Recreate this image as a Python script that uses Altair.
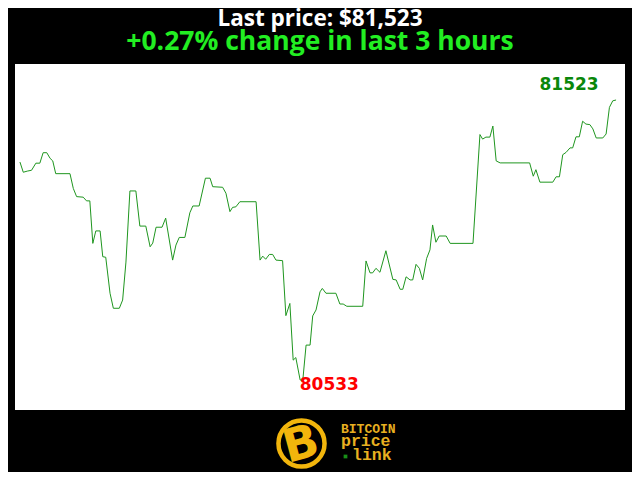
import altair as alt
import pandas as pd

TITLE = "Last price: $81,523"
SUBTITLE = "+0.27% change in last 3 hours"
MAX_LABEL = "81523"
MIN_LABEL = "80533"
LOGO_LINES = ["BITCOIN", "price", "link"]

minutes = [0.0, 1.0, 2.2, 3.5, 4.8, 6.0, 7.0, 8.1, 9.1, 9.9, 10.8, 15.1, 16.1, 17.1, 19.1, 20.1,
           21.1, 22.0, 22.9, 24.2, 25.0, 25.9, 27.2, 28.2, 30.0, 31.0, 32.0, 33.2, 35.0, 36.2,
           38.0, 39.3, 40.1, 41.1, 42.9, 44.0, 46.1, 47.1, 48.1, 49.8, 51.3, 52.2, 54.1, 56.0,
           57.4, 58.2, 61.2, 62.2, 63.4, 64.2, 65.2, 66.4, 71.3, 72.5, 73.3, 74.2, 75.3, 76.3,
           77.3, 79.3, 80.3, 81.5, 82.5, 83.3, 84.6, 85.4, 86.4, 87.6, 88.4, 89.4, 90.6, 91.3,
           92.4, 95.4, 96.6, 97.6, 98.7, 103.5, 104.5, 105.7, 106.5, 107.5, 108.7, 110.5, 112.6,
           113.6, 114.8, 115.6, 116.6, 117.8, 118.6, 119.6, 120.6, 121.6, 122.8, 123.8, 124.6,
           125.6, 126.6, 128.7, 129.9, 136.8, 138.9, 139.7, 140.7, 141.9, 142.8, 143.8, 145.0,
           153.9, 155.0, 155.8, 157.0, 160.9, 161.9, 162.9, 163.9, 164.9, 166.1, 166.9, 167.9,
           168.9, 169.9, 170.9, 172.1, 173.0, 174.0, 176.0, 177.0, 178.0, 179.0, 180.0]

prices = [81304, 81268, 81272, 81275, 81300, 81300, 81337, 81337, 81317, 81308, 81263, 81263,
          81211, 81182, 81180, 81167, 81167, 81017, 81061, 81061, 80970, 80968, 80841, 80788,
          80788, 80817, 80951, 81202, 81202, 81078, 81078, 81005, 81018, 81074, 81074, 81106,
          80958, 81011, 81038, 81038, 81125, 81149, 81149, 81247, 81247, 81217, 81215, 81194,
          81129, 81144, 81146, 81164, 81164, 80958, 80972, 80961, 80978, 80978, 80958, 80956,
          80762, 80805, 80605, 80614, 80535, 80533, 80658, 80658, 80761, 80782, 80846, 80858,
          80841, 80841, 80803, 80803, 80795, 80795, 80955, 80913, 80913, 80929, 80915, 80991,
          80890, 80888, 80855, 80855, 80899, 80888, 80888, 80943, 80929, 80888, 80964, 80994,
          81082, 81021, 81043, 81043, 81017, 81017, 81401, 81385, 81392, 81392, 81431, 81308,
          81301, 81301, 81254, 81277, 81233, 81233, 81252, 81252, 81330, 81338, 81354, 81354,
          81393, 81393, 81448, 81438, 81436, 81421, 81389, 81389, 81403, 81497, 81520, 81523]

df = pd.DataFrame({"t": minutes, "price": prices})
imax = df["price"].idxmax()
imin = df["price"].idxmin()
df_max = df.loc[[imax]].assign(label=MAX_LABEL)
df_min = df.loc[[imin]].assign(label=MIN_LABEL)

xs = alt.Scale(domain=[-1.5, 182.7], nice=False, zero=False)
ys = alt.Scale(domain=[80429, 81650], nice=False, zero=False)
X = alt.X("t:Q", scale=xs, axis=None)
Y = alt.Y("price:Q", scale=ys, axis=None)

line = alt.Chart(df).mark_line(color="#1f961f", strokeWidth=1).encode(x=X, y=Y)

max_txt = alt.Chart(df_max).mark_text(
    font="DejaVu Sans", fontWeight="bold", fontSize=17, color="#0a870a",
    align="center", baseline="alphabetic", dx=-47, dy=-10
).encode(x=X, y=Y, text="label:N")

min_txt = alt.Chart(df_min).mark_text(
    font="DejaVu Sans", fontWeight="bold", fontSize=17, color="#ff0000",
    align="left", baseline="alphabetic", dx=-3, dy=9
).encode(x=X, y=Y, text="label:N")

one = pd.DataFrame({"k": [0]})

def deco_text(txt, x, y, **kw):
    return alt.Chart(one).mark_text(**kw).encode(
        x=alt.value(x), y=alt.value(y), text=alt.value(txt))

title1 = deco_text(TITLE, 305, -38.5, font="Open Sans", fontWeight="bold", fontSize=22.5,
                   color="white", align="center", baseline="alphabetic")
title2 = deco_text(SUBTITLE, 305, -14, font="Open Sans", fontWeight="bold", fontSize=26.5,
                   color="#22ee22", align="center", baseline="alphabetic")

ring = alt.Chart(one).mark_point(
    shape="circle", size=2124, filled=False, stroke="#f2b50c", strokeWidth=4.5,
    fill="black", fillOpacity=1
).encode(x=alt.value(286.5), y=alt.value(379.5))

bee = deco_text("B", 286, 381, font="DejaVu Sans", fontWeight="bold", fontSize=46,
                color="#f2b50c", align="center", baseline="middle", angle=345)

logo1 = deco_text(LOGO_LINES[0], 326, 368.5, font="Liberation Mono", fontWeight="bold",
                  fontSize=13, color="#e8b020", align="left", baseline="alphabetic")
logo2 = deco_text(LOGO_LINES[1], 326, 382, font="Liberation Mono", fontWeight="bold",
                  fontSize=16.5, color="#e8b020", align="left", baseline="alphabetic")
logo3 = deco_text(LOGO_LINES[2], 337, 396, font="Liberation Mono", fontWeight="bold",
                  fontSize=16.5, color="#e8b020", align="left", baseline="alphabetic")
dot = alt.Chart(one).mark_square(size=14, color="#22cc22", filled=True).encode(
    x=alt.value(330.5), y=alt.value(392.5))

chart = alt.layer(
    line, max_txt, min_txt, title1, title2, ring, bee, logo1, logo2, logo3, dot
).properties(
    width=610, height=346, background="black",
    autosize=alt.AutoSizeParams(type="none"),
    padding={"left": 7, "top": 56, "right": 7, "bottom": 62},
).configure_view(fill="white", strokeWidth=0)

chart.save("out.html", embed_options={"renderer": "svg", "actions": False})
